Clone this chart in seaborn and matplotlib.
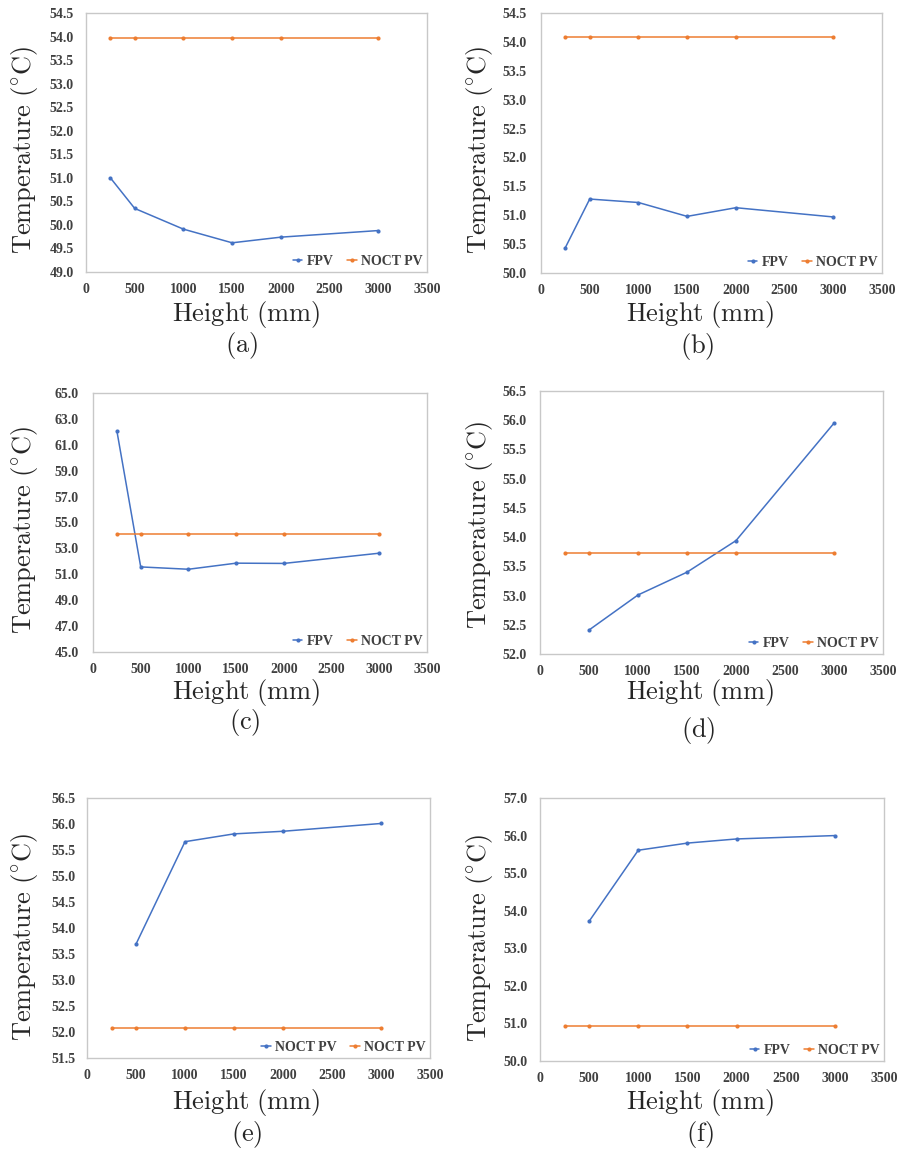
import matplotlib
matplotlib.use("Agg")
import matplotlib.pyplot as plt
import seaborn as sns
import pandas as pd

# ---------------- data ----------------
height_full = [250, 500, 1000, 1500, 2000, 3000]
height_short = [500, 1000, 1500, 2000, 3000]

fpv_a = [51.00, 50.35, 49.91, 49.62, 49.74, 49.88]
noct_a = [53.97, 53.97, 53.97, 53.97, 53.97, 53.97]

fpv_b = [50.44, 51.28, 51.22, 50.98, 51.13, 50.97]
noct_b = [54.08, 54.08, 54.08, 54.08, 54.08, 54.08]

fpv_c = [62.08, 51.57, 51.39, 51.86, 51.84, 52.63]
noct_c = [54.10, 54.10, 54.10, 54.10, 54.10, 54.10]

fpv_d = [52.41, 53.01, 53.40, 53.94, 55.95]
noct_d = [53.73, 53.73, 53.73, 53.73, 53.73, 53.73]

fpv_e = [53.69, 55.66, 55.81, 55.86, 56.01]
noct_e = [52.07, 52.07, 52.07, 52.07, 52.07, 52.07]

fpv_f = [53.72, 55.61, 55.80, 55.91, 56.00]
noct_f = [50.93, 50.93, 50.93, 50.93, 50.93, 50.93]

x_ticks = [0, 500, 1000, 1500, 2000, 2500, 3000, 3500]
yticks_a = [49.0, 49.5, 50.0, 50.5, 51.0, 51.5, 52.0, 52.5, 53.0, 53.5, 54.0, 54.5]
yticks_b = [50.0, 50.5, 51.0, 51.5, 52.0, 52.5, 53.0, 53.5, 54.0, 54.5]
yticks_c = [45.0, 47.0, 49.0, 51.0, 53.0, 55.0, 57.0, 59.0, 61.0, 63.0, 65.0]
yticks_d = [52.0, 52.5, 53.0, 53.5, 54.0, 54.5, 55.0, 55.5, 56.0, 56.5]
yticks_e = [51.5, 52.0, 52.5, 53.0, 53.5, 54.0, 54.5, 55.0, 55.5, 56.0, 56.5]
yticks_f = [50.0, 51.0, 52.0, 53.0, 54.0, 55.0, 56.0, 57.0]

panel_letters = ["(a)", "(b)", "(c)", "(d)", "(e)", "(f)"]
series1_labels = ["FPV", "FPV", "FPV", "FPV", "NOCT PV", "FPV"]
series2_label = "NOCT PV"
xlabel_text = r"$\mathrm{Height\ (mm)}$"
ylabel_text = r"$\mathrm{Temperature\ (^{\circ}C)}$"

# ---------------- style ----------------
sns.set_style("white")
plt.rcParams["font.family"] = ["Liberation Serif", "DejaVu Serif"]
plt.rcParams["mathtext.fontset"] = "cm"

W, H = 901, 1156
fig = plt.figure(figsize=(W / 100, H / 100), dpi=100)

BLUE = "#4472C4"
ORANGE = "#ED7D31"
TICK_COLOR = "#404040"
FRAME = "#C8C8C8"

# axes boxes in pixels: left, top, right, bottom
boxes = [
    (86, 13, 427, 272),
    (541, 13, 882, 273),
    (93, 393, 427, 652),
    (540, 391, 883, 654),
    (87, 798, 430, 1058),
    (540, 798, 884, 1061),
]
ytick_pads_px = [12, 14, 14, 13, 11, 12]
ylabel_pos = [(25, 150), (479, 150), (25, 530), (479, 525), (25, 937), (479, 938)]
xlabel_pos = [(246, 315), (700, 315), (246, 693), (700, 693), (246, 1102), (700, 1102)]
letter_pos = [(242, 345), (697, 347), (245, 723), (698, 730), (247, 1135), (700, 1135)]

fpv_data = [
    (height_full, fpv_a), (height_full, fpv_b), (height_full, fpv_c),
    (height_short, fpv_d), (height_short, fpv_e), (height_short, fpv_f),
]
noct_data = [noct_a, noct_b, noct_c, noct_d, noct_e, noct_f]
yticks_all = [yticks_a, yticks_b, yticks_c, yticks_d, yticks_e, yticks_f]

for i in range(6):
    l, t, r, b = boxes[i]
    ax = fig.add_axes([l / W, 1 - b / H, (r - l) / W, (b - t) / H])
    xs, ys = fpv_data[i]
    df1 = pd.DataFrame({"h": xs, "T": ys})
    df2 = pd.DataFrame({"h": height_full, "T": noct_data[i]})
    sns.lineplot(data=df1, x="h", y="T", ax=ax, color=BLUE, linewidth=1.1,
                 marker="o", markersize=3, markeredgewidth=0,
                 label=series1_labels[i])
    sns.lineplot(data=df2, x="h", y="T", ax=ax, color=ORANGE, linewidth=1.1,
                 marker="o", markersize=3, markeredgewidth=0,
                 label=series2_label)
    yt = yticks_all[i]
    ax.set_xlim(0, 3500)
    ax.set_ylim(yt[0], yt[-1])
    ax.set_xticks(x_ticks)
    ax.set_yticks(yt)
    ax.set_yticklabels([f"{v:.1f}" for v in yt], fontweight="bold")
    ax.set_xticklabels([str(v) for v in x_ticks], fontweight="bold")
    ax.tick_params(axis="both", length=0, labelsize=10, labelcolor=TICK_COLOR)
    ax.tick_params(axis="y", pad=ytick_pads_px[i] * 0.72)
    ax.tick_params(axis="x", pad=8)
    ax.set_xlabel("")
    ax.set_ylabel("")
    for s in ax.spines.values():
        s.set_color(FRAME)
        s.set_linewidth(1.0)
    ax.grid(False)
    leg = ax.legend(loc="lower right", ncol=2, frameon=False,
                    prop={"size": 10, "weight": "bold"},
                    handlelength=0.7, handletextpad=0.3, columnspacing=1.0,
                    borderaxespad=0.1, borderpad=0.2)
    for txt in leg.get_texts():
        txt.set_color(TICK_COLOR)

    xl, yl = ylabel_pos[i]
    fig.text(xl / W, 1 - yl / H, ylabel_text, rotation=90, ha="center", va="center",
             fontsize=19)
    xx, yx = xlabel_pos[i]
    fig.text(xx / W, 1 - yx / H, xlabel_text, ha="center", va="center", fontsize=19)
    xp, yp = letter_pos[i]
    fig.text(xp / W, 1 - yp / H, r"$\mathrm{" + panel_letters[i] + "}$",
             ha="center", va="center", fontsize=19)

fig.savefig("out.png", dpi=100)
